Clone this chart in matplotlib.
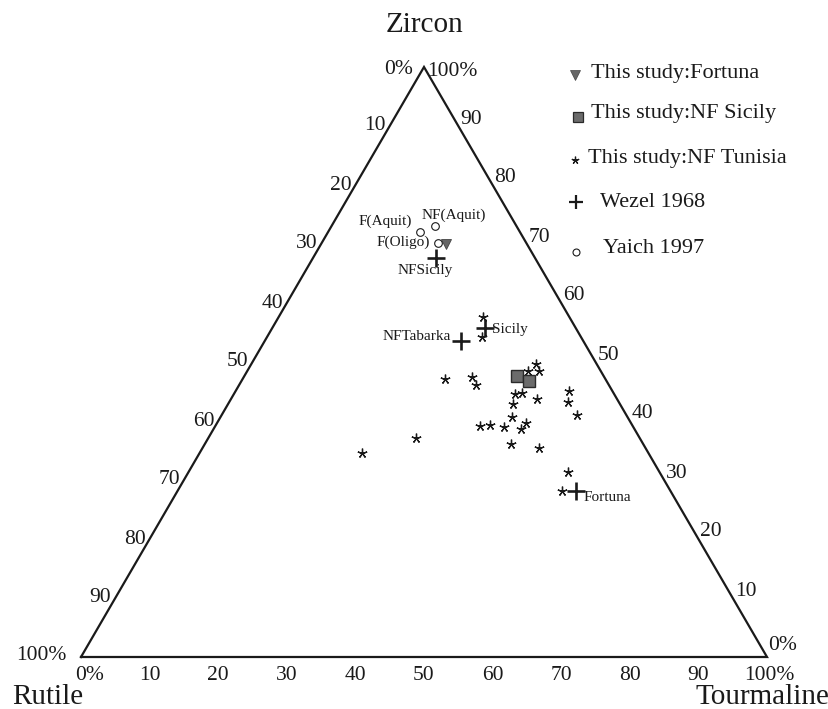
import matplotlib
matplotlib.use("Agg")
import matplotlib.pyplot as plt
import numpy as np

plt.rcParams['font.family'] = ['Liberation Serif', 'DejaVu Serif']

# ---------------- data (percent: Zircon, Tourmaline, Rutile) ----------------
tunisia_zircon = [57.7, 54.3, 47.1, 47.5, 46.1, 49.6, 48.4, 48.5, 44.5, 44.7, 43.8, 42.9, 45.1, 43.3,
                  41.1, 40.6, 39.2, 39.3, 39.0, 39.7, 38.6, 36.1, 35.5, 37.2, 34.6, 31.4, 28.1]
tunisia_tourm = [29.8, 31.3, 29.5, 33.3, 34.6, 41.5, 40.9, 42.5, 41.0, 42.0, 44.5, 41.5, 48.6, 49.4,
                 51.7, 42.5, 38.6, 40.0, 42.2, 45.0, 44.9, 44.6, 49.0, 30.2, 23.7, 55.3, 56.0]
tunisia_rutile = [12.5, 14.4, 23.4, 19.2, 19.3, 8.9, 10.7, 9.0, 14.5, 13.3, 11.7, 15.6, 6.3, 7.3,
                  7.2, 16.9, 22.2, 20.7, 18.8, 15.3, 16.5, 19.3, 15.5, 32.6, 41.7, 13.3, 15.9]

sicily_zircon = [47.7, 46.7]
sicily_tourm = [39.7, 41.9]
sicily_rutile = [12.6, 11.4]

fortuna_zircon = [70.0]
fortuna_tourm = [18.2]
fortuna_rutile = [11.8]

wezel_names = ['NFSicily', 'Sicily', 'NFTabarka', 'Fortuna']
wezel_zircon = [67.6, 55.7, 53.6, 28.2]
wezel_tourm = [17.9, 31.1, 28.6, 58.0]
wezel_rutile = [14.5, 13.2, 17.8, 13.8]

yaich_names = ['F(Aquit)', 'NF(Aquit)', 'F(Oligo)']
yaich_zircon = [72.0, 73.0, 70.1]
yaich_tourm = [13.4, 15.1, 17.0]
yaich_rutile = [14.6, 11.9, 12.9]

tick_values = [10, 20, 30, 40, 50, 60, 70, 80, 90]
legend_labels = ['This study:Fortuna', 'This study:NF Sicily', 'This study:NF Tunisia',
                 'Wezel 1968', 'Yaich 1997']


def tern(z, t, r):
    z = np.asarray(z, float); t = np.asarray(t, float); r = np.asarray(r, float)
    s = z + t + r
    z, t = z / s, t / s
    return t + z / 2.0, z


W, H = 829, 709
fig = plt.figure(figsize=(W / 100, H / 100), dpi=100)
ink = '#1a1a1a'
asterisk = (5, 2, 0)

# main ternary axes: triangle maps to the axes box
ax = fig.add_axes([81 / W, 52 / H, 686 / W, 590 / H])
ax.set_xlim(0, 1)
ax.set_ylim(0, 1)
ax.axis('off')

# triangle
vx, vy = tern([0, 100, 0, 0], [0, 0, 100, 0], [100, 0, 0, 100])
ax.plot(vx, vy, color=ink, lw=1.6, solid_joinstyle='miter', clip_on=False)

# tick labels
tfs = 15.5
for v in tick_values:
    # left edge: Rutile %
    x, y = tern(100 - v, 0, v)
    ax.annotate(str(v), (x, y), xytext=(-4, 0), textcoords='offset pixels',
                ha='right', va='center', fontsize=tfs, color=ink)
    # right edge: Zircon %
    x, y = tern(v, 100 - v, 0)
    ax.annotate(str(v), (x, y), xytext=(2, 7), textcoords='offset pixels',
                ha='left', va='center', fontsize=tfs, color=ink)
    # bottom: Tourmaline %
    x, y = tern(0, v, 100 - v)
    ax.annotate(str(v), (x, y), xytext=(0, -9), textcoords='offset pixels',
                ha='center', va='top', fontsize=tfs, color=ink)

# end labels
top = tern(100, 0, 0)
bl = tern(0, 0, 100)
br = tern(0, 100, 0)
ax.annotate('0%', top, xytext=(-11, -3), textcoords='offset pixels', ha='right', va='center', fontsize=tfs, color=ink)
ax.annotate('100%', top, xytext=(3, -4), textcoords='offset pixels', ha='left', va='center', fontsize=tfs, color=ink)
ax.annotate('100%', bl, xytext=(-14, 2), textcoords='offset pixels', ha='right', va='center', fontsize=tfs, color=ink)
ax.annotate('0%', bl, xytext=(-6, -9), textcoords='offset pixels', ha='left', va='top', fontsize=tfs, color=ink)
ax.annotate('0%', br, xytext=(1, 12), textcoords='offset pixels', ha='left', va='center', fontsize=tfs, color=ink)
ax.annotate('100%', br, xytext=(2, -9), textcoords='offset pixels', ha='center', va='top', fontsize=tfs, color=ink)

# data points
x, y = tern(tunisia_zircon, tunisia_tourm, tunisia_rutile)
ax.plot(x, y, ls='none', marker=asterisk, ms=7, color=ink, mew=0.95, clip_on=False)

x, y = tern(sicily_zircon, sicily_tourm, sicily_rutile)
ax.plot(x, y, ls='none', marker='s', ms=8, mfc='#6b6b6b', mec='#2a2a2a', mew=1.0, clip_on=False)

x, y = tern(fortuna_zircon, fortuna_tourm, fortuna_rutile)
ax.plot(x, y, ls='none', marker='v', ms=7.5, mfc='#666666', mec='#444444', mew=0.6, clip_on=False)

x, y = tern(wezel_zircon, wezel_tourm, wezel_rutile)
ax.plot(x, y, ls='none', marker='+', ms=13, mew=1.9, color=ink, clip_on=False)
wezel_offsets = [(-11, -12), (7, -1), (-10, 4), (8, -7)]
wezel_ha = ['center', 'left', 'right', 'left']
for n, xi, yi, off, ha in zip(wezel_names, x, y, wezel_offsets, wezel_ha):
    ax.annotate(n, (xi, yi), xytext=off, textcoords='offset pixels', ha=ha, va='center',
                fontsize=11, color=ink)

x, y = tern(yaich_zircon, yaich_tourm, yaich_rutile)
ax.plot(x, y, ls='none', marker='o', ms=5.5, mfc='white', mec=ink, mew=0.8, clip_on=False)
yaich_offsets = [(-8, 11), (19, 11), (-8, 1)]
yaich_ha = ['right', 'center', 'right']
for n, xi, yi, off, ha in zip(yaich_names, x, y, yaich_offsets, yaich_ha):
    ax.annotate(n, (xi, yi), xytext=off, textcoords='offset pixels', ha=ha, va='center',
                fontsize=11, color=ink)

# overlay in pixel coordinates for titles & legend
ov = fig.add_axes([0, 0, 1, 1])
ov.set_xlim(0, W)
ov.set_ylim(H, 0)
ov.axis('off')

ov.text(425, 25, 'Zircon', ha='center', va='center', fontsize=21, color=ink)
ov.text(12, 697, 'Rutile', ha='left', va='center', fontsize=21, color=ink)
ov.text(829, 697, 'Tourmaline', ha='right', va='center', fontsize=21, color=ink)

# legend
leg_y_marker = [75, 117, 160, 201.5, 251.5]
leg_x_marker = [575, 578, 575, 576.5, 576.5]
leg_y_text = [73.5, 113.5, 158.5, 202.5, 248.5]
leg_x_text = [591.5, 591.5, 588, 600, 603]
styles = [dict(marker='v', ms=6.5, mfc='#666666', mec='#444444', mew=0.5),
          dict(marker='s', ms=7.5, mfc='#6b6b6b', mec='#2a2a2a', mew=0.9),
          dict(marker=asterisk, ms=5.5, color=ink, mew=0.9),
          dict(marker='+', ms=10, mew=1.6, color=ink),
          dict(marker='o', ms=5, mfc='white', mec=ink, mew=0.8)]
for lab, mx, my, tx, ty, st in zip(legend_labels, leg_x_marker, leg_y_marker, leg_x_text, leg_y_text, styles):
    ov.plot([mx], [my], ls='none', **st)
    ov.text(tx, ty, lab, ha='left', va='center', fontsize=16, color=ink)

fig.savefig('out.png', dpi=100)
